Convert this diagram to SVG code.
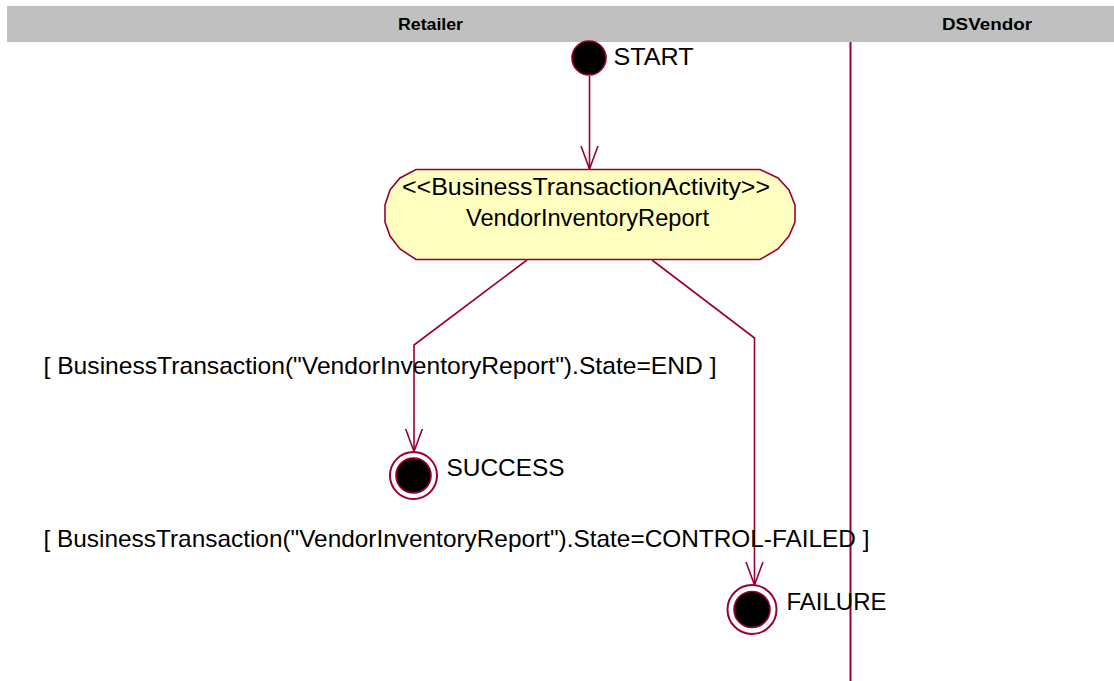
<svg xmlns="http://www.w3.org/2000/svg" width="1114" height="681" viewBox="0 0 1114 681">
  <style>
    .lane { font-family: "Liberation Sans", Arial, sans-serif; font-size: 16px; font-weight: bold; fill: #000; }
    .lbl { font-family: "Liberation Sans", Arial, sans-serif; font-size: 24px; fill: #000; }
    .edge { fill: none; stroke: #990033; stroke-width: 1.6; }
    .ring { fill: #fff; stroke: #990033; stroke-width: 2; }
    .dot { fill: #000; stroke: #990033; stroke-width: 1.6; }
  </style>
  <defs>
    <marker id="open" viewBox="0 0 26 24" refX="23" refY="12" markerWidth="26" markerHeight="24" markerUnits="userSpaceOnUse" orient="auto">
      <path d="M0,3.5 L23,12 L0,20.5" fill="none" stroke="#990033" stroke-width="1.6"/>
    </marker>
  </defs>

  <rect width="1114" height="681" fill="#fff"/>

  <!-- swimlane header and partition line -->
  <g id="lanes">
    <rect x="7" y="6" width="1107" height="36" fill="#C0C0C0"/>
    <text class="lane" x="430.5" y="30" text-anchor="middle" textLength="65" lengthAdjust="spacingAndGlyphs">Retailer</text>
    <text class="lane" x="987" y="30" text-anchor="middle" textLength="90" lengthAdjust="spacingAndGlyphs">DSVendor</text>
    <line x1="850.5" y1="42" x2="850.5" y2="681" stroke="#990033" stroke-width="2"/>
  </g>

  <!-- transitions with guards -->
  <g id="connectors">
    <path class="edge" d="M589.5,76 L589.5,169" marker-end="url(#open)"/>
    <path class="edge" d="M527,260 L414,345 L414,451.5" marker-end="url(#open)"/>
    <path class="edge" d="M652,260 L754.5,338 L754.5,585" marker-end="url(#open)"/>
    <text class="lbl" x="43.5" y="374" textLength="673" lengthAdjust="spacingAndGlyphs">[ BusinessTransaction("VendorInventoryReport").State=END ]</text>
    <text class="lbl" x="43.5" y="546.5" textLength="826" lengthAdjust="spacingAndGlyphs">[ BusinessTransaction("VendorInventoryReport").State=CONTROL-FAILED ]</text>
  </g>

  <g id="start">
    <circle class="dot" cx="589" cy="58" r="17"/>
    <text class="lbl" x="613.5" y="65" textLength="80" lengthAdjust="spacingAndGlyphs">START</text>
  </g>

  <g id="activity">
    <path d="M416,169.5 L760,169.5 L778,178 L789,190 L795,205 L795,222 L789,236 L778,249 L760,259.5 L416,259.5 L400,249 L390,236 L385,222 L385,205 L390,190 L400,178 Z" fill="#FFFFC0" stroke="#990033" stroke-width="1.6"/>
    <text class="lbl" x="586" y="195" text-anchor="middle" textLength="368" lengthAdjust="spacingAndGlyphs">&lt;&lt;BusinessTransactionActivity&gt;&gt;</text>
    <text class="lbl" x="587.5" y="226" text-anchor="middle" textLength="243" lengthAdjust="spacingAndGlyphs">VendorInventoryReport</text>
  </g>

  <g id="success">
    <circle class="ring" cx="413.5" cy="475.5" r="23.5"/>
    <circle class="dot" cx="413.5" cy="475.5" r="17.5"/>
    <text class="lbl" x="446.5" y="476" textLength="118" lengthAdjust="spacingAndGlyphs">SUCCESS</text>
  </g>

  <g id="failure">
    <circle class="ring" cx="752" cy="609.5" r="24.5"/>
    <circle class="dot" cx="752" cy="609.5" r="18"/>
    <text class="lbl" x="786.5" y="610" textLength="100" lengthAdjust="spacingAndGlyphs">FAILURE</text>
  </g>
</svg>
